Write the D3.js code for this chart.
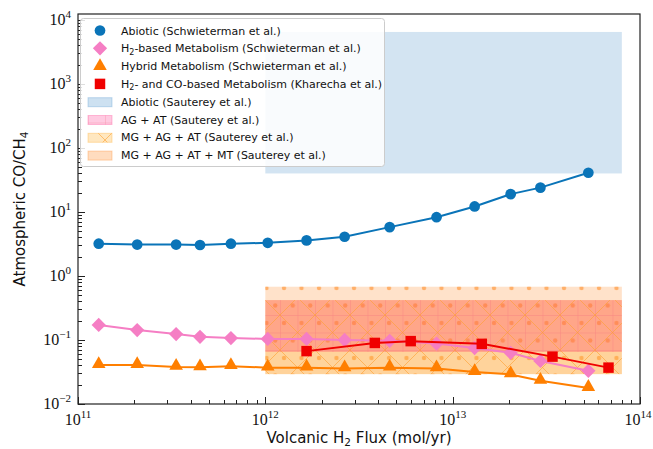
<!DOCTYPE html>
<html>
<head>
<meta charset="utf-8">
<script src="https://cdn.jsdelivr.net/npm/d3@7"></script>
<style>
  body { margin: 0; background: #fff; }
  svg { display: block; }
  .tick-label { font-family: "Liberation Serif", serif; font-size: 16px; fill: #111; }
  .axis-label { font-family: "DejaVu Sans", sans-serif; font-size: 15px; fill: #111; }
  .legend-text { font-family: "DejaVu Sans", sans-serif; font-size: 11px; fill: #111; }
</style>
</head>
<body>
<svg width="653" height="449"></svg>
<script>
// Schwieterman et al. model runs (shared flux grid)
const schwFlux = [1.29e11, 2.07e11, 3.34e11, 4.48e11, 6.55e11, 1.03e12, 1.66e12,
                  2.65e12, 4.61e12, 8.2e12, 1.31e13, 2.04e13, 2.94e13, 5.3e13];
const abioticVals = [3.2, 3.1, 3.1, 3.05, 3.2, 3.3, 3.6, 4.1, 5.8, 8.3, 12.2, 19, 24, 41];
const h2MetabVals = [0.172, 0.143, 0.124, 0.112, 0.107, 0.104, 0.104, 0.100, 0.097, 0.088,
                     0.075, 0.063, 0.047, 0.033];
const hybridVals = [0.0405, 0.0405, 0.038, 0.0375, 0.039, 0.037, 0.037, 0.036, 0.037, 0.036,
                    0.0315, 0.029, 0.023, 0.0178];

// Kharecha et al.
const kharFlux = [1.66e12, 3.84e12, 5.97e12, 1.43e13, 3.41e13, 6.79e13];
const kharVals = [0.067, 0.090, 0.096, 0.087, 0.055, 0.037];

// Sauterey et al. ranges: [fluxMin, fluxMax, ratioMin, ratioMax]
const sautAbiotic = [1e12, 8e13, 40, 6500];
const sautAGAT = [1e12, 8e13, 0.065, 0.42];
const sautMGAGAT = [1e12, 8e13, 0.0293, 0.42];
const sautMGAGATMT = [1e12, 8e13, 0.0293, 0.68];

const xTicks = [1e11, 1e12, 1e13, 1e14];
const yTicks = [1e-2, 1e-1, 1e0, 1e1, 1e2, 1e3, 1e4];

const svg = d3.select("svg");
const pLeft = 78, pRight = 640, pTop = 14, pBottom = 404;

const x = d3.scaleLog().domain([1e11, 1e14]).range([pLeft, pRight]);
const y = d3.scaleLog().domain([1e-2, 1.24e4]).range([pBottom, pTop]);

const defs = svg.append("defs");
// '+' grid hatch
let p = defs.append("pattern").attr("id", "hatchPlus")
    .attr("patternUnits", "userSpaceOnUse").attr("width", 17.5).attr("height", 17.5);
p.append("path").attr("d", "M0,0V17.5M0,0H17.5")
    .attr("stroke", "#f0607a").attr("stroke-opacity", 0.45).attr("stroke-width", 1);
// 'x' hatch
p = defs.append("pattern").attr("id", "hatchX")
    .attr("patternUnits", "userSpaceOnUse").attr("width", 35).attr("height", 35);
p.append("path").attr("d", "M0,0L35,35M35,0L0,35")
    .attr("stroke", "#ffa030").attr("stroke-opacity", 0.6).attr("stroke-width", 1);
// 'o' dot hatch
p = defs.append("pattern").attr("id", "hatchDot")
    .attr("patternUnits", "userSpaceOnUse").attr("width", 17.5).attr("height", 35);
p.append("circle").attr("cx", 4).attr("cy", 8).attr("r", 2.2).attr("fill", "#ff9a40").attr("fill-opacity", 0.7);
p.append("circle").attr("cx", 12.75).attr("cy", 25.5).attr("r", 2.2).attr("fill", "#ff9a40").attr("fill-opacity", 0.7);

const clip = defs.append("clipPath").attr("id", "plotClip");
clip.append("rect").attr("x", pLeft).attr("y", pTop).attr("width", pRight - pLeft).attr("height", pBottom - pTop);

const plot = svg.append("g").attr("clip-path", "url(#plotClip)");

function region(r, fill, opacity, hatch) {
  const g = plot.append("g");
  const rx = x(r[0]), ry = y(r[3]), w = x(r[1]) - x(r[0]), h = y(r[2]) - y(r[3]);
  g.append("rect").attr("x", rx).attr("y", ry).attr("width", w).attr("height", h)
    .attr("fill", fill).attr("fill-opacity", opacity);
  if (hatch) {
    g.append("rect").attr("x", rx).attr("y", ry).attr("width", w).attr("height", h)
      .attr("fill", `url(#${hatch})`);
  }
}

region(sautAbiotic, "#5b9bd0", 0.27, null);
region(sautMGAGATMT, "#ff8c2a", 0.25, "hatchDot");
region(sautMGAGAT, "#ffb030", 0.3, null);
region(sautAGAT, "#ff4060", 0.3, "hatchPlus");
region(sautMGAGAT, "#ffb030", 0, "hatchX");

// axes frame and ticks
svg.append("rect").attr("x", pLeft).attr("y", pTop).attr("width", pRight - pLeft).attr("height", pBottom - pTop)
  .attr("fill", "none").attr("stroke", "#222").attr("stroke-width", 1.2);

const ticksG = svg.append("g").attr("stroke", "#222").attr("stroke-width", 1);
function minorTicks(lo, hi) {
  const out = [];
  for (let e = lo; e < hi; e++) for (let m = 1; m < 10; m++) out.push(m * Math.pow(10, e));
  out.push(Math.pow(10, hi));
  return out;
}
minorTicks(11, 14).forEach(v => {
  const major = xTicks.some(t => Math.abs(t - v) / t < 1e-9);
  const xx = Math.round(x(v)) + 0.5;
  ticksG.append("line").attr("x1", xx).attr("x2", xx).attr("y1", pBottom).attr("y2", pBottom - (major ? 7 : 4));
});
minorTicks(-2, 4).forEach(v => {
  if (y(v) < pTop) return;
  const major = yTicks.some(t => Math.abs(t - v) / t < 1e-9);
  const yy = Math.round(y(v)) + 0.5;
  ticksG.append("line").attr("y1", yy).attr("y2", yy).attr("x1", pLeft).attr("x2", pLeft + (major ? 7 : 4));
});

function powLabel(sel, exp) {
  sel.append("tspan").text("10");
  sel.append("tspan").attr("dy", -7).attr("font-size", "11px").text(exp < 0 ? "\u2212" + (-exp) : exp);
}
xTicks.forEach(v => {
  const t = svg.append("text").attr("class", "tick-label").attr("x", Math.min(x(v), 638)).attr("y", 425)
    .attr("text-anchor", "middle");
  powLabel(t, Math.round(Math.log10(v)));
});
yTicks.forEach(v => {
  const t = svg.append("text").attr("class", "tick-label").attr("x", 71).attr("y", y(v) + 5)
    .attr("text-anchor", "end");
  powLabel(t, Math.round(Math.log10(v)));
});

// axis labels
const xl = svg.append("text").attr("class", "axis-label").attr("x", (pLeft + pRight) / 2).attr("y", 443)
  .attr("text-anchor", "middle");
xl.append("tspan").text("Volcanic H");
xl.append("tspan").attr("dy", 3).attr("font-size", "10.5px").text("2");
xl.append("tspan").attr("dy", -3).text(" Flux (mol/yr)");

const yl = svg.append("text").attr("class", "axis-label")
  .attr("transform", `translate(25,${(pTop + pBottom) / 2}) rotate(-90)`)
  .attr("text-anchor", "middle");
yl.append("tspan").text("Atmospheric CO/CH");
yl.append("tspan").attr("dy", 3).attr("font-size", "10.5px").text("4");

// series
const line = d3.line().x(d => x(d[0])).y(d => y(d[1]));
const series = [
  {flux: schwFlux, vals: abioticVals, color: "#0a74b8", sym: d3.symbolCircle, size: 90},
  {flux: schwFlux, vals: h2MetabVals, color: "#f57ec4", sym: d3.symbolDiamond2, size: 130},
  {flux: schwFlux, vals: hybridVals, color: "#ff7f00", sym: d3.symbolTriangle, size: 80},
  {flux: kharFlux, vals: kharVals, color: "#f00000", sym: d3.symbolSquare, size: 110}
];
series.forEach(s => {
  const pts = s.flux.map((f, i) => [f, s.vals[i]]);
  plot.append("path").datum(pts).attr("d", line).attr("fill", "none")
    .attr("stroke", s.color).attr("stroke-width", 2);
  plot.selectAll(null).data(pts).enter().append("path")
    .attr("d", d3.symbol().type(s.sym).size(s.size))
    .attr("transform", d => `translate(${x(d[0])},${y(d[1]) + (s.sym === d3.symbolTriangle ? -1 : 0)})`)
    .attr("fill", s.color);
});

// legend
const lg = svg.append("g");
lg.append("rect").attr("x", 80.5).attr("y", 18.5).attr("width", 304).attr("height", 148).attr("rx", 3)
  .attr("fill", "#fff").attr("fill-opacity", 0.85).attr("stroke", "#ccc");
const legendItems = [
  {label: ["Abiotic (Schwieterman et al.)"], series: 0},
  {label: ["H", "2", "-based Metabolism (Schwieterman et al.)"], series: 1},
  {label: ["Hybrid Metabolism (Schwieterman et al.)"], series: 2},
  {label: ["H", "2", "- and CO-based Metabolism (Kharecha et al.)"], series: 3},
  {label: ["Abiotic (Sauterey et al.)"], patch: [["#5b9bd0", 0.3, null]]},
  {label: ["AG + AT (Sauterey et al.)"], patch: [["#ff4f9a", 0.3, "hatchPlus"]]},
  {label: ["MG + AG + AT (Sauterey et al.)"], patch: [["#ffb030", 0.3, "hatchX"]]},
  {label: ["MG + AG + AT + MT (Sauterey et al.)"], patch: [["#ff8c2a", 0.3, "hatchDot"]]}
];
legendItems.forEach((it, i) => {
  const cy = 30.5 + i * 17.8;
  if (it.series !== undefined) {
    const s = series[it.series];
    lg.append("path").attr("d", d3.symbol().type(s.sym).size(s.size))
      .attr("transform", `translate(100,${cy})`).attr("fill", s.color);
  } else {
    it.patch.forEach(pp => {
      lg.append("rect").attr("x", 88).attr("y", cy - 4).attr("width", 24).attr("height", 9)
        .attr("fill", pp[0]).attr("fill-opacity", pp[1]).attr("stroke", pp[0]).attr("stroke-opacity", 0.35);
      if (pp[2]) lg.append("rect").attr("x", 88).attr("y", cy - 4).attr("width", 24).attr("height", 9)
        .attr("fill", `url(#${pp[2]})`);
    });
  }
  const t = lg.append("text").attr("class", "legend-text").attr("x", 121).attr("y", cy + 4);
  if (it.label.length === 1) t.text(it.label[0]);
  else {
    t.append("tspan").text(it.label[0]);
    t.append("tspan").attr("dy", 2.5).attr("font-size", "8px").text(it.label[1]);
    t.append("tspan").attr("dy", -2.5).text(it.label[2]);
  }
});
</script>
</body>
</html>
